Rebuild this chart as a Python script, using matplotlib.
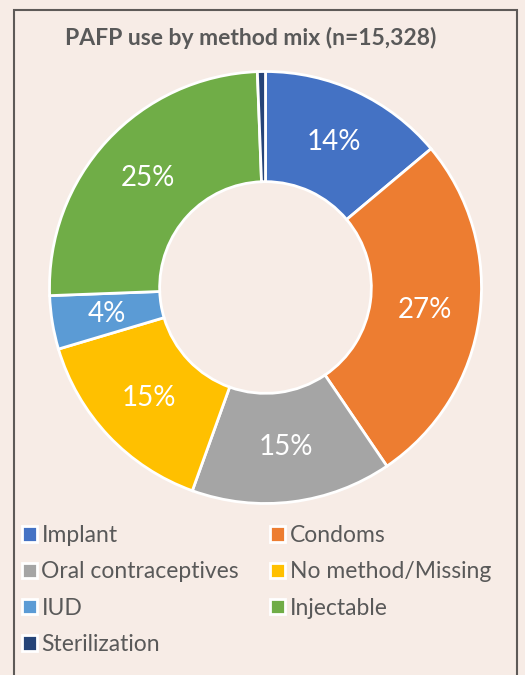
import matplotlib.pyplot as plt
from matplotlib.patches import Rectangle

# data
methods = ["Implant", "Condoms", "Oral contraceptives", "No method/Missing",
           "IUD", "Injectable", "Sterilization"]
shares = [13.9, 26.6, 15.0, 14.9, 4.0, 25.0, 0.6]
colors = ["#4472C4", "#ED7D31", "#A5A5A5", "#FFC000", "#5B9BD5", "#70AD47", "#264478"]

bg = "#F7ECE6"
txt = "#595959"
plt.rcParams['font.family'] = ["Lato", "DejaVu Sans"]

fig = plt.figure(figsize=(5.25, 6.75), dpi=100, facecolor=bg)

# frame around the chart
fig.patches.append(Rectangle((14 / 525, -0.02), 503 / 525, 1 - 10 / 675 + 0.02,
                             transform=fig.transFigure, fill=False,
                             edgecolor="#5E5A58", linewidth=1.5))

fig.text(251 / 525, 1 - 38 / 675, "PAFP use by method mix (n=15,328)",
         ha="center", va="center", fontsize=16.5, fontweight="bold", color=txt)

ax = fig.add_axes([49.5 / 525, 171.5 / 675, 432 / 525, 432 / 675])
ax.set_facecolor(bg)


def fmt(p):
    return "%d%%" % round(p) if p >= 2 else ""


wedges, _, autotexts = ax.pie(shares, colors=colors, startangle=90, counterclock=False,
                              autopct=fmt, pctdistance=0.745,
                              wedgeprops=dict(width=0.51, edgecolor="white", linewidth=2))
for t in autotexts:
    t.set_color("white")
    t.set_fontsize(20)
ax.set_xlim(-1.0, 1.0)
ax.set_ylim(-1.0, 1.0)

order = [0, 2, 4, 6, 1, 3, 5]
leg = fig.legend([wedges[i] for i in order], [methods[i] for i in order],
                 ncol=2, loc="upper left", bbox_to_anchor=(22 / 525, 1 - 525 / 675),
                 frameon=False, fontsize=16.5, labelcolor=txt,
                 borderpad=0, borderaxespad=0,
                 handlelength=0.65, handleheight=0.65, handletextpad=0.2,
                 columnspacing=1.35, labelspacing=0.67)

fig.savefig("out.png", facecolor=bg)
